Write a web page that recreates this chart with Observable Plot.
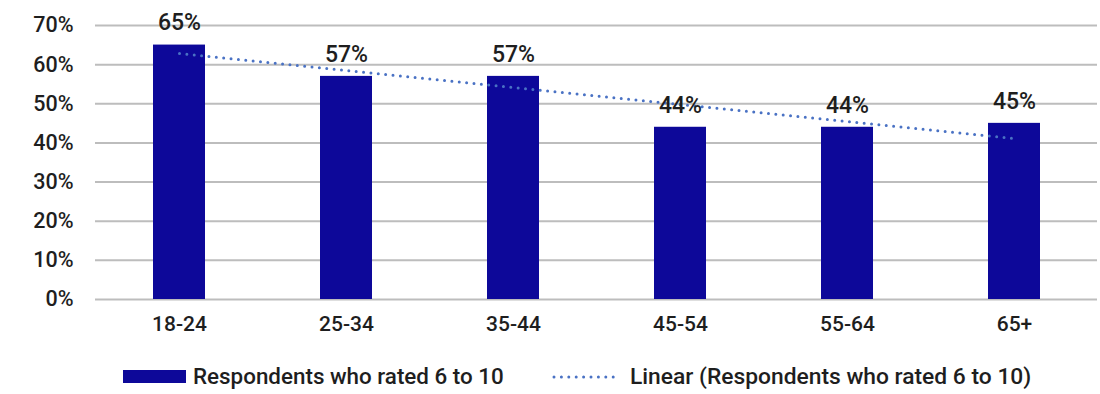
<!DOCTYPE html>
<html>
<head>
<meta charset="utf-8">
<script src="https://cdn.jsdelivr.net/npm/d3@7"></script>
<script src="https://cdn.jsdelivr.net/npm/@observablehq/plot@0.6"></script>
<style>
  html, body { margin: 0; padding: 0; background: #fff; }
  body { width: 1100px; height: 394px; overflow: hidden; font-family: Roboto, "Noto Sans", sans-serif; }
  #chart svg { display: block; }
  .legend { position: relative; height: 44px; font-family: Roboto, sans-serif; font-weight: 500; font-size: 22.4px; color: #1e1e1e; }
  .legend .item { position: absolute; top: 13px; display: flex; align-items: center; }
  .legend .swatch-bar { width: 63px; height: 13px; background: #0d0899; margin-right: 7px; }
  .legend .swatch-line { width: 68px; height: 4px; margin-right: 10px; }
</style>
</head>
<body>
<div id="chart"></div>
<div class="legend">
  <div class="item" style="left:123px">
    <span class="swatch-bar"></span><span>Respondents who rated 6 to 10</span>
  </div>
  <div class="item" style="left:552px">
    <svg class="swatch-line" width="68" height="4"><line x1="2" y1="2" x2="66" y2="2" stroke="#4a72c4" stroke-width="3" stroke-dasharray="0 7.4" stroke-linecap="round"/></svg><span style="font-size:22.8px">Linear (Respondents who rated 6 to 10)</span>
  </div>
</div>
<script>
// Share of respondents who rated 6 to 10, by age group
const ageGroups = ["18-24", "25-34", "35-44", "45-54", "55-64", "65+"];
const rated6to10 = [65, 57, 57, 44, 44, 45];
const yTicks = [0, 10, 20, 30, 40, 50, 60, 70];

const rows = ageGroups.map((group, i) => ({ group, value: rated6to10[i], index: i + 1 }));

// Least-squares linear trend over the age-group index
const meanX = d3.mean(rows, d => d.index);
const meanY = d3.mean(rows, d => d.value);
const slope = d3.sum(rows, d => (d.index - meanX) * (d.value - meanY)) /
              d3.sum(rows, d => (d.index - meanX) ** 2);
const intercept = meanY - slope * meanX;
const trend = rows.map(d => ({ group: d.group, value: intercept + slope * d.index }));

const chart = Plot.plot({
  width: 1100,
  height: 350,
  marginTop: 25,
  marginBottom: 51,
  marginLeft: 95,
  marginRight: 3,
  style: { fontFamily: "Roboto, sans-serif", fontWeight: 500, fontSize: "21px", color: "#1e1e1e" },
  x: { domain: ageGroups, paddingInner: 0.69, paddingOuter: 0.345, label: null },
  y: { domain: [0, 70], label: null },
  marks: [
    Plot.gridY(yTicks, { stroke: "#bdbdbd", strokeOpacity: 1, strokeWidth: 2 }),
    Plot.axisY(yTicks, { tickSize: 0, tickPadding: 22, tickFormat: d => `${d}%`, fontSize: 21.5 }),
    Plot.axisX({ tickSize: 0, tickPadding: 17, fontSize: 21 }),
    Plot.barY(rows, { x: "group", y: "value", fill: "#0d0899" }),
    Plot.line(trend, { x: "group", y: "value", stroke: "#4a72c4", strokeWidth: 3,
      strokeDasharray: "0 7.4", strokeLinecap: "round" }),
    Plot.text(rows, { x: "group", y: "value", text: d => `${d.value}%`, dy: -22,
      fontSize: 23, fill: "#1e1e1e" })
  ]
});
document.getElementById("chart").append(chart);
</script>
</body>
</html>
